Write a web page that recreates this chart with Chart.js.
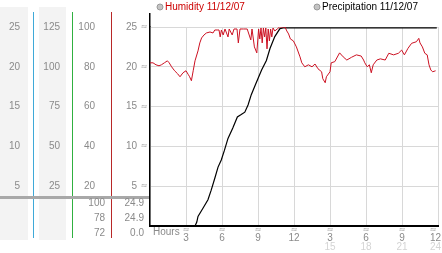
<!DOCTYPE html>
<html>
<head>
<meta charset="utf-8">
<script src="https://cdn.jsdelivr.net/npm/chart.js@4.4.1/dist/chart.umd.min.js"></script>
<style>
  html, body { margin: 0; padding: 0; background: #fff; }
  #wrap { position: relative; width: 442px; height: 253px; }
</style>
</head>
<body>
<div id="wrap"><canvas id="weatherChart" width="442" height="253"></canvas></div>
<script>
// Humidity (%) readings over the day
const humidityHours = [0, 0.25, 0.5, 0.75, 0.95, 1.2, 1.45, 1.6, 1.8, 2.05, 2.3, 2.5, 2.75, 3.0, 3.2, 3.3, 3.45, 3.6, 3.75, 4.0, 4.15, 4.3, 4.5, 4.7, 5.0, 5.25, 5.4, 5.6, 5.75, 5.85, 5.95,
  6.1, 6.25, 6.5, 6.6, 6.85, 7.0, 7.25, 7.36, 7.5, 7.8, 8.1, 8.4, 8.5, 8.7, 8.9, 9.05, 9.15, 9.25, 9.35, 9.45, 9.55, 9.65, 9.75, 9.85, 9.95, 10.05, 10.15, 10.25, 10.4, 10.6, 10.8, 11.0, 11.25, 11.4, 11.55, 11.7, 11.95,
  12.2, 12.5, 12.65, 12.9, 13.2, 13.5, 13.75, 14.0, 14.3, 14.4, 14.6, 14.7, 15.0, 15.1, 15.4, 15.8, 16.1, 16.4, 16.8, 17.2, 17.6, 17.8, 17.9, 18.1, 18.28, 18.44, 18.6, 18.9, 19.2, 19.6, 19.9,
  20.3, 20.7, 20.97, 21.2, 21.5, 21.8, 22.2, 22.4, 22.5, 22.7, 22.9, 23.1, 23.25, 23.4, 23.55, 23.8];
const humidityValues = [82, 82, 81, 80.5, 81, 82, 83, 82, 80, 78, 76.5, 75, 77, 78, 76, 75, 73, 78, 83, 88, 92, 94.5, 96, 97, 97.5, 97, 98.5, 98.5, 98.5, 95, 98.5,
  96, 99, 95, 99, 96, 99, 99, 92, 99, 99, 99, 93.5, 99, 90, 87, 99, 94, 99.5, 92, 99.5, 95, 99.5, 89, 99, 93, 99, 95, 99.5, 98, 99, 100, 100, 100, 98, 96.5, 94, 93,
  90, 85, 82, 80, 81, 80, 81.4, 79, 77.5, 74, 72, 75, 77.5, 82, 82.6, 87, 85, 83.4, 84.8, 86, 85.4, 83.4, 82, 80, 81, 77, 81, 83.4, 84, 83.4, 86.8,
  86, 86.8, 88.4, 86, 89.3, 91.8, 92.6, 94.3, 92, 90, 86.8, 86, 81, 78.4, 77.5, 78];

// Accumulated precipitation readings
const precipHours = [0, 3.75, 3.9, 4.0, 4.4, 4.83, 5.1, 5.4, 5.67, 5.94, 6.2, 6.5, 6.9, 7.28, 7.6, 7.9, 8.17, 8.44, 8.8, 9.3, 9.7, 10.0, 10.4, 10.83, 11.1, 23.9];
const precipValues = [0, 0, 0.5, 1.2, 2.2, 3.3, 4.5, 6.0, 7.4, 8.3, 9.5, 11.0, 12.3, 13.7, 14.0, 14.3, 15.2, 16.5, 17.8, 19.6, 20.8, 22.3, 23.8, 24.8, 24.9, 24.9];

// Tick labels
const precipTicks = [5, 10, 15, 20, 25];
const firstColTicks = ['5', '10', '15', '20', '25'];
const secondColTicks = ['25', '50', '75', '100', '125'];
const humidityTicks = ['20', '40', '60', '80', '100'];
const precipTickLabels = ['5', '10', '15', '20', '25'];
const hourTicks = [3, 6, 9, 12, 15, 18, 21, 24];
const hourLabels = ['3', '6', '9', '12', '3', '6', '9', '12'];
const dayHourTicks = [15, 18, 21, 24];
const dayHourLabels = ['15', '18', '21', '24'];

// Summary values (max / last / min)
const humidityStats = ['100', '78', '72'];
const precipStats = ['24.9', '24.9', '0.0'];

const legendLabels = ['Humidity 11/12/07', 'Precipitation 11/12/07'];

const FONT = '10px "Liberation Sans", Arial, sans-serif';
const MARK_FONT = '8px "DejaVu Sans", sans-serif';
const LABEL_GRAY = '#8a8a8a';

// Left panel, legend and hour labels
const panelPlugin = {
    id: 'panelPlugin',
    beforeDraw(chart) {
        const ctx = chart.ctx;
        const y = chart.scales.y;
        ctx.save();
        // shaded columns
        ctx.fillStyle = '#f3f3f3';
        ctx.fillRect(0, 7, 28, 233);
        ctx.fillRect(39, 7, 27, 233);

        // coloured dividers
        const dividers = [['#3fa9d8', 33], ['#30b040', 72], ['#b82828', 111]];
        dividers.forEach(([color, x]) => {
            ctx.fillStyle = color;
            ctx.fillRect(x, 12, 1, 226);
        });

        // gray separator above the summary values
        ctx.fillStyle = '#a8a8a8';
        ctx.fillRect(0, 196, 149, 3);

        // tick labels of the four columns
        ctx.font = FONT;
        ctx.fillStyle = LABEL_GRAY;
        ctx.textAlign = 'right';
        ctx.textBaseline = 'middle';
        precipTicks.forEach((v, i) => {
            const py = y.getPixelForValue(v);
            ctx.fillText(firstColTicks[i], 20, py);
            ctx.fillText(secondColTicks[i], 60, py);
            ctx.fillText(humidityTicks[i], 95, py);
            ctx.fillText(precipTickLabels[i], 137, py);
        });

        // small marks beside the precipitation ticks
        ctx.font = MARK_FONT;
        ctx.fillStyle = '#a0a0a0';
        ctx.textAlign = 'center';
        precipTicks.forEach(v => {
            ctx.fillText('≈', 144, y.getPixelForValue(v));
        });

        // summary values
        ctx.font = FONT;
        ctx.fillStyle = LABEL_GRAY;
        ctx.textAlign = 'right';
        humidityStats.forEach((t, i) => ctx.fillText(t, 105, 203 + i * 15));
        precipStats.forEach((t, i) => ctx.fillText(t, 144, 203 + i * 15));
        ctx.restore();
    },
    afterDraw(chart) {
        const ctx = chart.ctx;
        const x = chart.scales.x;
        const area = chart.chartArea;
        ctx.save();

        // axis line reaches above the plot
        ctx.fillStyle = '#000';
        ctx.fillRect(area.left - 1, 13, 1.5, area.top - 13);

        // legend
        const legendX = [160, 317];
        const legendColors = ['#cc0000', '#000000'];
        ctx.font = FONT;
        ctx.textBaseline = 'middle';
        ctx.textAlign = 'left';
        legendLabels.forEach((t, i) => {
            ctx.beginPath();
            ctx.arc(legendX[i], 7, 3, 0, Math.PI * 2);
            ctx.fillStyle = '#c4c4c4';
            ctx.fill();
            ctx.strokeStyle = '#999';
            ctx.lineWidth = 1;
            ctx.stroke();
            ctx.fillStyle = legendColors[i];
            ctx.fillText(t, legendX[i] + 5, 7);
        });

        // hour axis labels
        ctx.fillStyle = LABEL_GRAY;
        ctx.fillText('Hours', 153, 232);
        hourTicks.forEach((h, i) => {
            const px = x.getPixelForValue(h);
            const last = i === hourTicks.length - 1;
            ctx.font = MARK_FONT;
            ctx.fillStyle = '#a0a0a0';
            ctx.textAlign = 'center';
            ctx.fillText('≈', last ? px - 5 : px, 230);
            ctx.font = FONT;
            ctx.fillStyle = LABEL_GRAY;
            ctx.textAlign = last ? 'right' : 'center';
            ctx.fillText(hourLabels[i], last ? 441 : px, 238);
        });
        ctx.fillStyle = '#d4d4d4';
        dayHourTicks.forEach((h, i) => {
            const px = x.getPixelForValue(h);
            const last = i === dayHourTicks.length - 1;
            ctx.textAlign = last ? 'right' : 'center';
            ctx.fillText(dayHourLabels[i], last ? 441 : px, 247);
        });
        ctx.restore();
    }
};

new Chart(document.getElementById('weatherChart'), {
    type: 'line',
    data: {
        datasets: [
            {
                label: legendLabels[0],
                data: humidityHours.map((h, i) => ({ x: h, y: humidityValues[i] })),
                borderColor: '#cc1122',
                borderWidth: 1,
                pointRadius: 0,
                tension: 0,
                yAxisID: 'yH'
            },
            {
                label: legendLabels[1],
                data: precipHours.map((h, i) => ({ x: h, y: precipValues[i] })),
                borderColor: '#000',
                borderWidth: 1.2,
                pointRadius: 0,
                tension: 0,
                yAxisID: 'y'
            }
        ]
    },
    options: {
        responsive: false,
        animation: false,
        devicePixelRatio: 1,
        layout: { padding: { top: 27, right: 4, left: 0, bottom: 0 } },
        plugins: { legend: { display: false }, tooltip: { enabled: false } },
        scales: {
            x: {
                type: 'linear',
                min: 0,
                max: 24,
                ticks: { stepSize: 3, display: false },
                grid: { color: '#d8d8d8', drawTicks: false },
                border: { color: '#000', width: 2 },
                afterFit: s => { s.height = 27; }
            },
            y: {
                type: 'linear',
                position: 'left',
                min: 0,
                max: 25,
                ticks: { stepSize: 5, display: false },
                grid: { color: '#d8d8d8', drawTicks: false },
                border: { color: '#000', width: 1.5 },
                afterFit: s => { s.width = 150; }
            },
            yH: {
                type: 'linear',
                display: false,
                min: 0,
                max: 100
            }
        }
    },
    plugins: [panelPlugin]
});
</script>
</body>
</html>
